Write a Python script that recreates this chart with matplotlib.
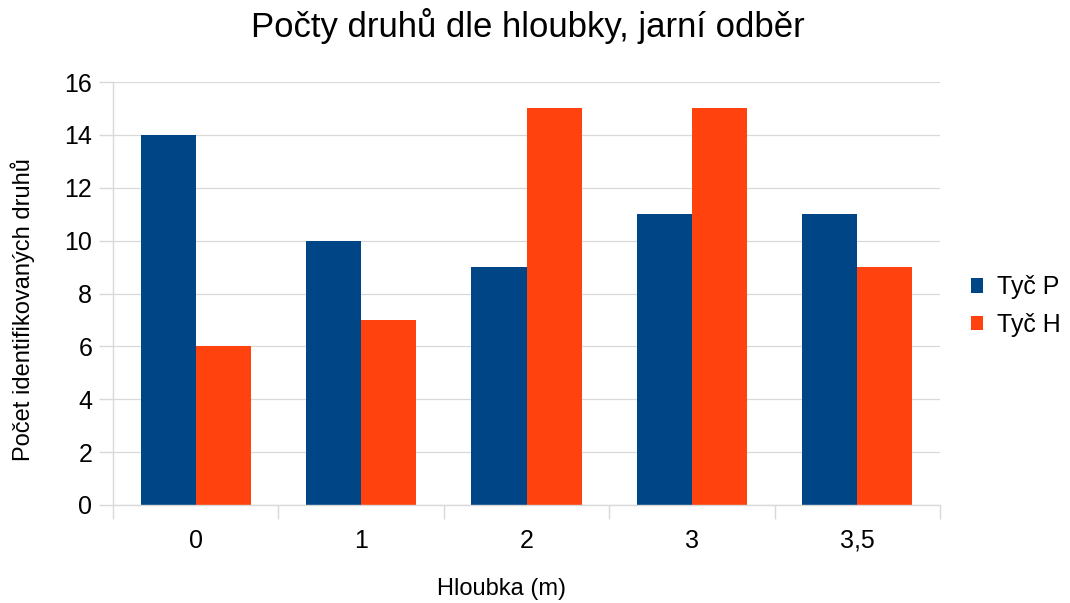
import matplotlib.pyplot as plt
import numpy as np

plt.rcParams['font.family'] = ['Liberation Sans', 'DejaVu Sans']

# data
depths = ['0', '1', '2', '3', '3,5']
tyc_p = [14, 10, 9, 11, 11]
tyc_h = [6, 7, 15, 15, 9]
yticks = [0, 2, 4, 6, 8, 10, 12, 14, 16]

blue = '#004586'
orange = '#ff420e'
grid_c = '#d9d9d9'

fig = plt.figure(figsize=(10.7, 6.03), dpi=100)
ax = fig.add_axes([113 / 1070, 1 - 505 / 603, 827 / 1070, 423 / 603])

x = np.arange(len(depths))
w = 1 / 3
ax.bar(x - w / 2, tyc_p, w, color=blue, label='Tyč P', zorder=2)
ax.bar(x + w / 2, tyc_h, w, color=orange, label='Tyč H', zorder=2)

ax.set_xlim(-0.5, len(depths) - 0.5)
ax.set_ylim(0, 16)
ax.set_yticks(yticks)
ax.set_yticklabels([str(v) for v in yticks], fontsize=18)
ax.yaxis.grid(True, color=grid_c, linewidth=0.9, zorder=0)

# category labels between boundary ticks
ax.set_xticks(np.arange(-0.5, len(depths)), minor=False)
ax.set_xticklabels([''] * (len(depths) + 1))
ax.set_xticks(x, minor=True)
ax.set_xticklabels(depths, minor=True, fontsize=18)
ax.tick_params(axis='x', which='minor', length=0, pad=17)
ax.tick_params(axis='x', which='major', length=10, color=grid_c, width=1)
ax.tick_params(axis='y', length=10, color=grid_c, width=1, pad=5)

for s in ['top', 'right']:
    ax.spines[s].set_visible(False)
for s in ['left', 'bottom']:
    ax.spines[s].set_color(grid_c)
    ax.spines[s].set_linewidth(1)

fig.text(528 / 1070, 1 - 26 / 603, 'Počty druhů dle hloubky, jarní odběr',
         fontsize=25, ha='center', va='center')
ax.set_ylabel('Počet identifikovaných druhů', fontsize=17)
ax.yaxis.set_label_coords(-0.094, 0.461)
ax.set_xlabel('Hloubka (m)', fontsize=17)
ax.xaxis.set_label_coords(0.47, -0.172)

ax.legend(loc='center left', bbox_to_anchor=(1.01, 0.47), frameon=False,
          fontsize=18, handlelength=0.5, handleheight=0.5, handletextpad=0.55,
          labelspacing=0.55)

fig.savefig('out.png', dpi=100)
